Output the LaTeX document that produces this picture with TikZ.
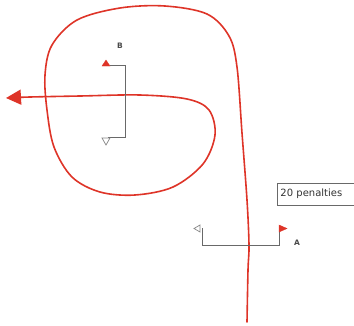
\documentclass[tikz,border=0pt]{standalone}
\usepackage{fontspec}
\setmainfont{DejaVu Sans}
\usetikzlibrary{arrows.meta}
\definecolor{cred}{RGB}{222,52,40}
\definecolor{cgray}{RGB}{105,105,105}
\tikzset{
  course/.style={draw=cred, line width=1.6pt, line cap=round},
  gateline/.style={draw=cgray, line width=1pt},
  redflag/.style={fill=cred, draw=cred, line width=0.4pt},
  whiteflag/.style={fill=white, draw=cgray!80, line width=0.7pt},
  lbl/.style={text=cgray!70!black, font=\fontsize{7.5}{8}\selectfont\bfseries, inner sep=0pt},
  penbox/.style={draw=cgray, line width=0.8pt, fill=white, font=\fontsize{10}{11}\selectfont, inner sep=3pt, anchor=west, text=black!80}
}
\begin{document}
\begin{tikzpicture}[x=1pt,y=-1pt]
\useasboundingbox (0,0) rectangle (354,325);
\clip (0,0) rectangle (354,325);
% course
\draw[course, -{Triangle[length=15pt,width=15pt]}] plot[smooth, tension=0.55] coordinates {
 (247,322) (248,270) (249,245) (247,200) (242,133) (237,67) (229,36) (207,14) (165,6) (120,8) (77,20) (52,45) (45,75) (47,110) (54,147) (72,177) (100,192) (135,195) (173,187) (203,164) (215,135) (209,110) (187,99) (140,95) (80,96) (30,97) (6,98)};
% gate B
\draw[gateline] (110,65) -- (125,65) -- (125,137) -- (108,137);
\draw[redflag] (102,66) -- (110,66) -- (106,60) -- cycle;
\draw[whiteflag] (102,138) -- (110,138) -- (106,145) -- cycle;
\node[lbl] (B) at (120,46) {B};
% gate A
\draw[gateline] (202,228) -- (202,245) -- (279,245) -- (279,229);
\draw[whiteflag] (200,225) -- (200,232) -- (194,228.5) -- cycle;
\draw[redflag] (279,225) -- (279,232) -- (287,228.5) -- cycle;
\node[lbl] (A) at (297,243) {A};
% penalties box
\node[penbox, minimum height=22pt, text width=80pt] (pen) at (277,194) {20 penalties};
\end{tikzpicture}
\end{document}
